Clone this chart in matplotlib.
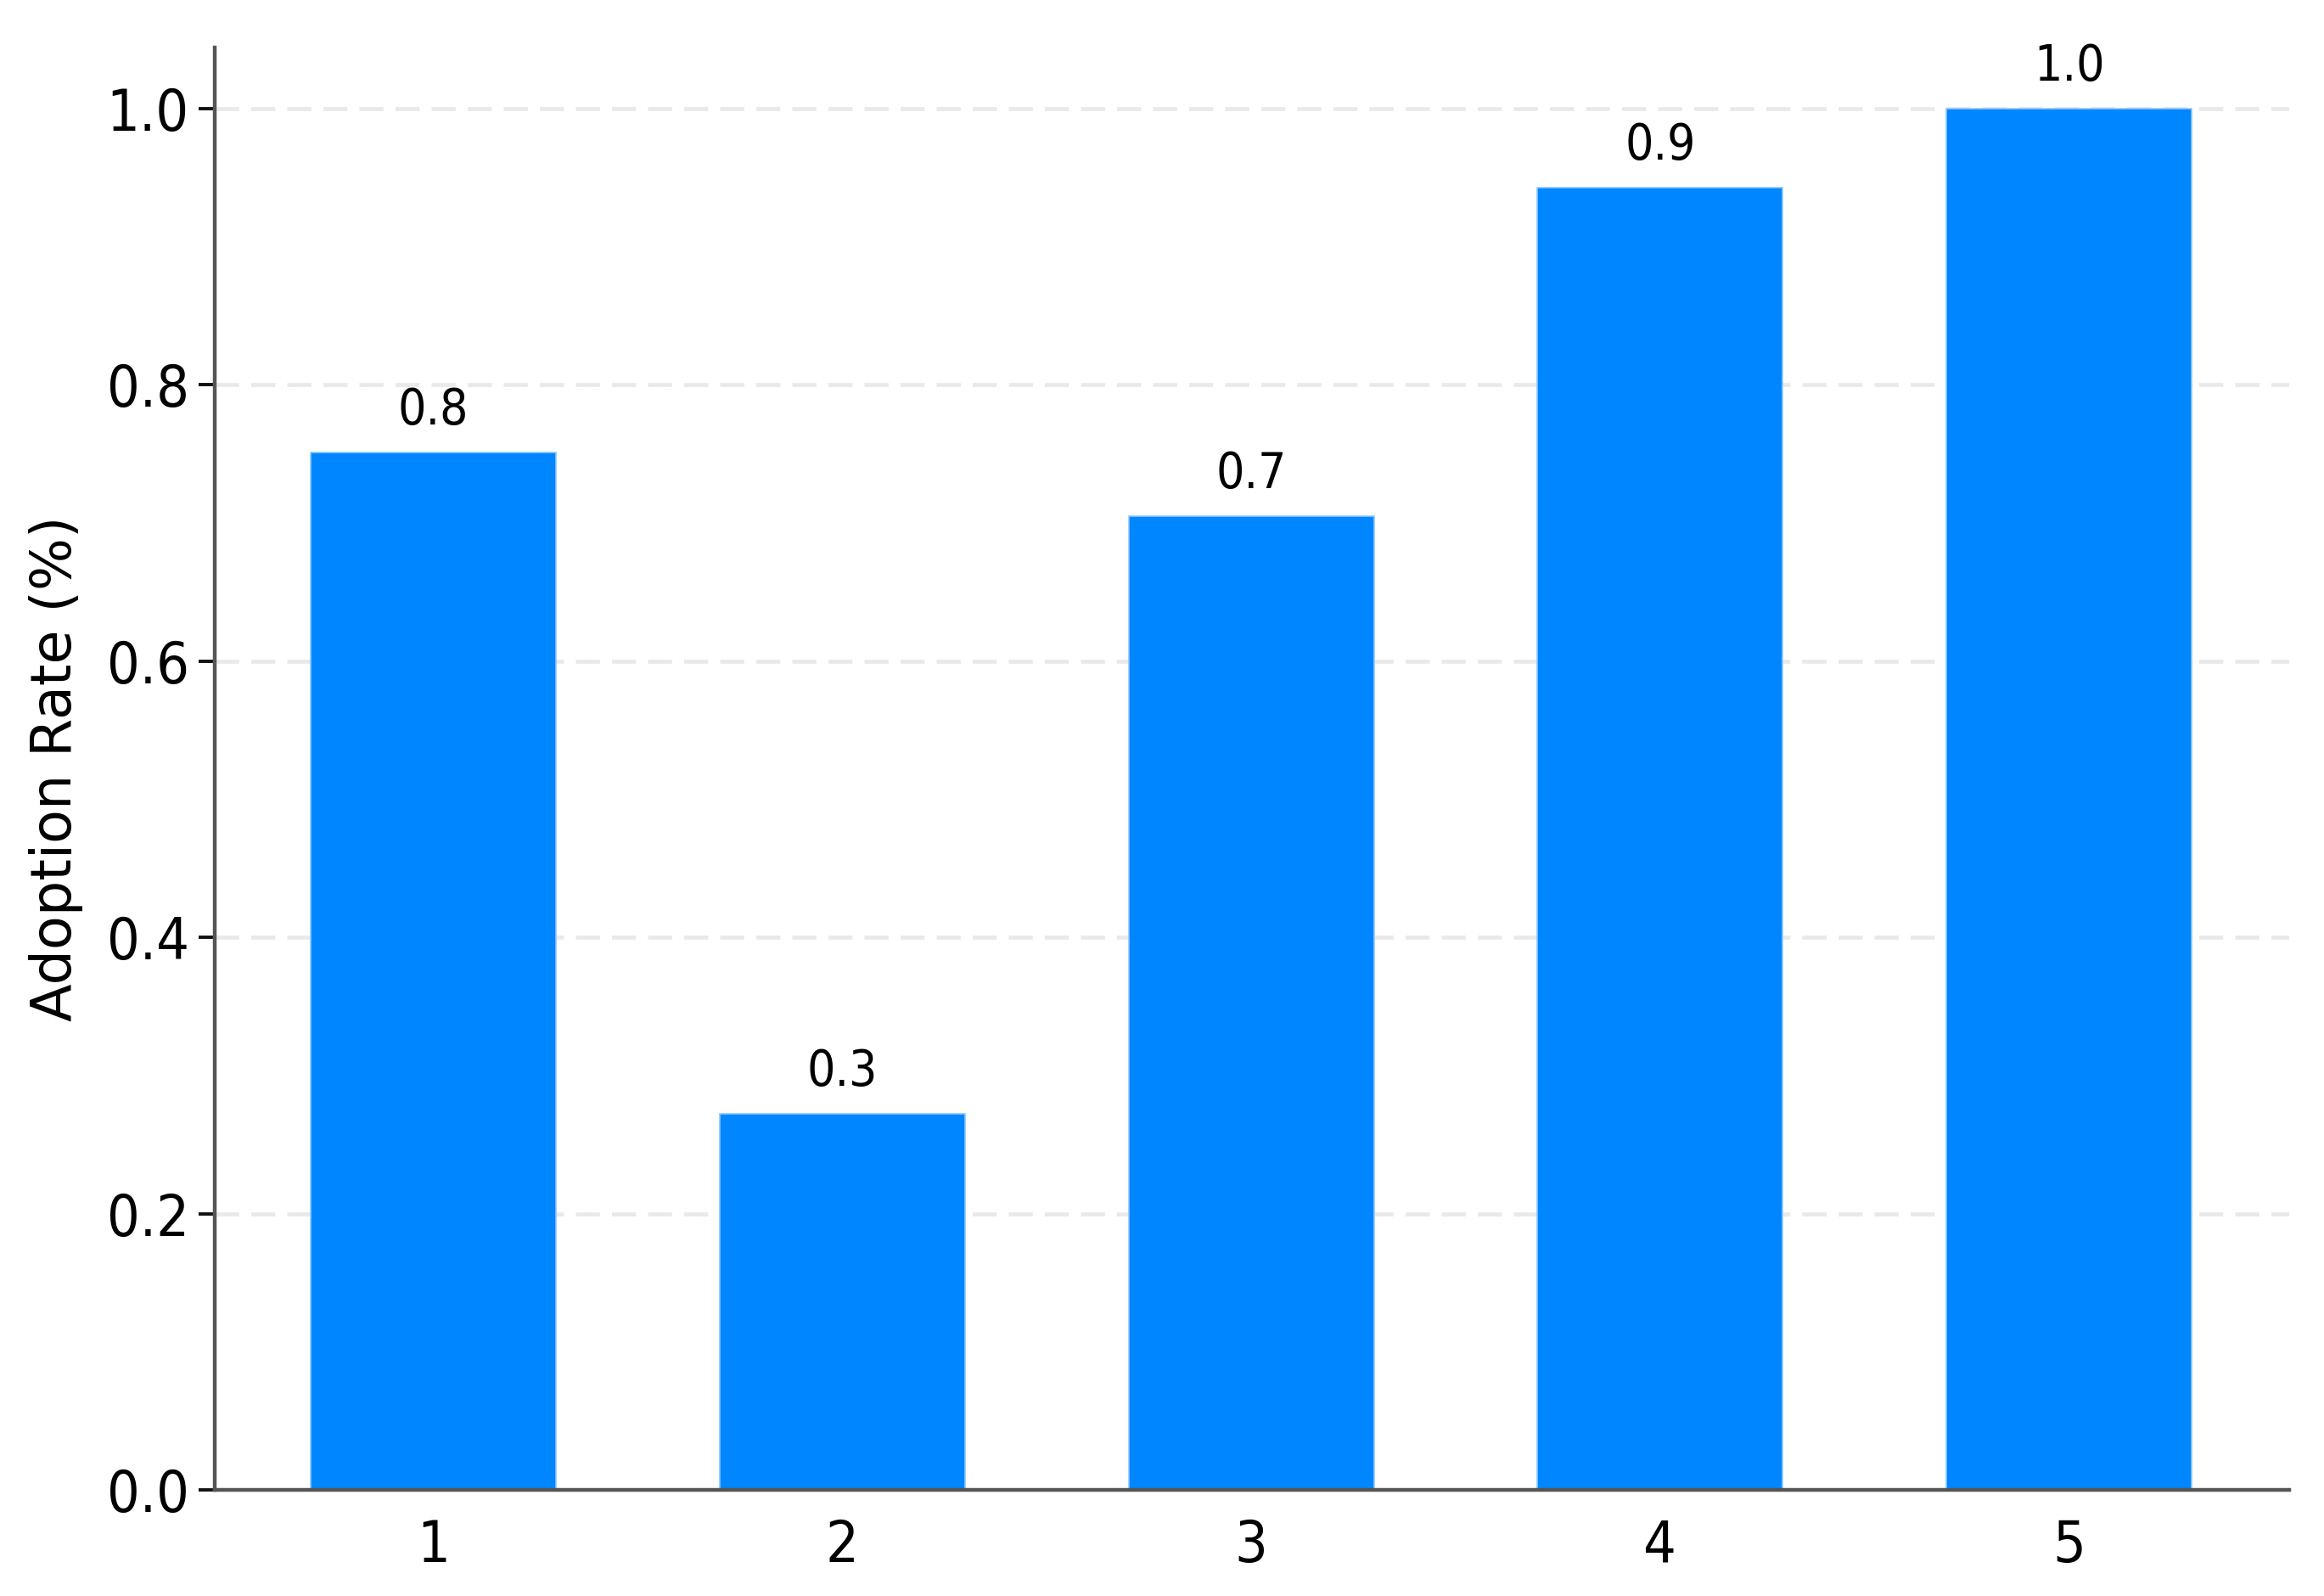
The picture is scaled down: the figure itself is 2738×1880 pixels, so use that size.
import numpy as np
import matplotlib
matplotlib.use('Agg')
import matplotlib.pyplot as plt

# data
groups = [1, 2, 3, 4, 5]
adoption = [0.751, 0.272, 0.705, 0.943, 1.0]
yticks = [0.0, 0.2, 0.4, 0.6, 0.8, 1.0]

# condensed face for numbers (reference glyphs are narrow)
narrow = dict(family='DejaVu Sans', stretch='condensed')

fig = plt.figure(figsize=(13.69, 9.40), dpi=200)
ax = fig.add_axes([0.0925, 0.0665, 0.8925, 0.9035])

ax.bar(groups, adoption, width=0.6, color='#0086ff', edgecolor='#8cc8ff', linewidth=0.6, zorder=2)
for x, v in zip(groups, adoption):
    ax.text(x, v + 0.013, f'{v:.1f}', ha='center', va='bottom', fontsize=21, **narrow)

ax.set_xlim(0.466, 5.538)
ax.set_ylim(0, 1.044)
ax.set_xticks(groups)
ax.set_yticks(yticks)
ax.set_xticklabels([str(g) for g in groups], fontsize=24.5, **narrow)
ax.set_yticklabels([f'{t:.1f}' for t in yticks], fontsize=24.5, **narrow)
ax.tick_params(axis='x', length=0, pad=12)
ax.tick_params(axis='y', length=7, width=1.4, color='#111111', pad=4)

ax.yaxis.grid(True, color='#e9e9e9', linestyle=(0, (6, 3)), linewidth=1.7, zorder=0)
ax.set_axisbelow(True)

for s in ['top', 'right']:
    ax.spines[s].set_visible(False)
for s in ['left', 'bottom']:
    ax.spines[s].set_color('#555555')
    ax.spines[s].set_linewidth(1.6)

ax.set_ylabel('Adoption Rate (%)', fontsize=23.5, family='DejaVu Sans', labelpad=10)

fig.savefig('out.png', dpi=200)
